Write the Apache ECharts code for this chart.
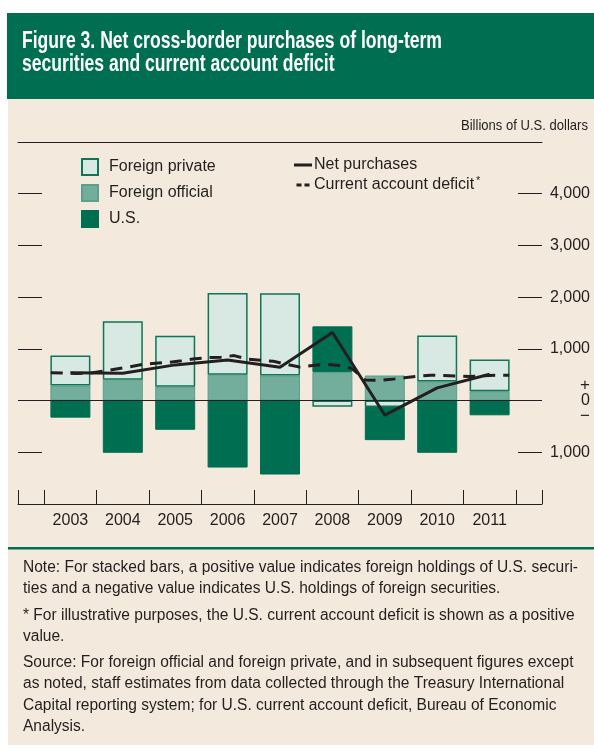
<!DOCTYPE html>
<html>
<head>
<meta charset="utf-8">
<script src="https://cdn.jsdelivr.net/npm/echarts@6/dist/echarts.min.js"></script>
<style>
  html, body { margin: 0; padding: 0; background: #fff; }
  #chart { width: 594px; height: 751px; }
</style>
</head>
<body>
<div id="chart"></div>
<script>
;(function () {
  const FONT = '"Liberation Sans", Arial, sans-serif'
  const INK = '#231f20'
  const GREEN = '#006f51'
  const CREAM = '#f3e9dc'

  const years = ['2003', '2004', '2005', '2006', '2007', '2008', '2009', '2010', '2011']
  const foreignPrivate = [580, 1130, 990, 1580, 1590, -120, -125, 890, 615]
  const foreignOfficial = [290, 405, 265, 500, 485, 550, 485, 370, 180]
  const usPurchases = [-330, -1010, -565, -1295, -1430, 885, -640, -1010, -285]
  const netPurchases = [540, 530, 690, 785, 645, 1315, -280, 245, 510]
  // quarterly, four per year
  const caDeficit = [
    540, 530, 525, 530,
    570, 610, 650, 700,
    720, 740, 770, 810,
    830, 840, 870, 800,
    780, 760, 700, 650,
    680, 700, 680, 620,
    400, 390, 410, 440,
    470, 490, 485, 475,
    465, 480, 490, 490,
  ]
  const yTicks = [-2000, -1000, 0, 1000, 2000, 3000, 4000, 5000]

  const titleLines = ['Figure 3. Net cross-border purchases of long-term', 'securities and current account deficit']
  const noteLines = [
    ['Note: For stacked bars, a positive value indicates foreign holdings of U.S. securi-', 568],
    ['ties and a negative value indicates U.S. holdings of foreign securities.', 589],
    ['* For illustrative purposes, the U.S. current account deficit is shown as a positive', 616],
    ['value.', 637],
    ['Source: For foreign official and foreign private, and in subsequent figures except', 663],
    ['as noted, staff estimates from data collected through the Treasury International', 684],
    ['Capital reporting system; for U.S. current account deficit, Bureau of Economic', 706],
    ['Analysis.', 727],
  ]

  // condense text the way the printed figure does
  const ctx = document.createElement('canvas').getContext('2d')
  function squeeze(text, font, width) {
    ctx.font = font
    return width / ctx.measureText(text).width
  }
  const TITLE_FONT = 'bold 23px ' + FONT
  const NOTE_FONT = '16px ' + FONT
  const titleScale = squeeze(titleLines[0], TITLE_FONT, 420)
  const noteScale = squeeze(noteLines[0][0], NOTE_FONT, 555)
  const unitScale = squeeze('Billions of U.S. dollars', '15px ' + FONT, 127)

  function scaledText(text, x, y, font, fill, scale, align) {
    return {
      type: 'text', x, y, scaleX: scale, silent: true,
      style: { text, x: 0, y: 0, align: align || 'left', verticalAlign: 'middle', fill, font },
    }
  }

  // padded categories: half-empty slots at both ends of the axis
  const slots = [''].concat(years, [''])
  const pad = (arr) => ['-'].concat(arr, ['-'])
  const boundaries = [0].concat(years.map((y, i) => i + 0.5), [years.length + 0.5, years.length + 1])

  const textStyle = { fontFamily: FONT, color: INK }
  const yRange = { type: 'value', min: yTicks[0], max: yTicks[yTicks.length - 1], interval: 1000 }
  const tickOnly = {
    ...yRange, position: 'left',
    splitLine: { show: false }, axisLine: { show: false }, axisLabel: { show: false },
    axisTick: { show: true, inside: true, length: 24, lineStyle: { color: INK } },
  }

  const chart = echarts.init(document.getElementById('chart'))

  chart.setOption({
    backgroundColor: '#fff',
    animation: false,
    graphic: [
      { type: 'rect', z: -10, silent: true, shape: { x: 7, y: 13, width: 600, height: 86 }, style: { fill: GREEN } },
      { type: 'rect', z: -10, silent: true, shape: { x: 8, y: 99, width: 600, height: 646 }, style: { fill: CREAM } },
      { type: 'rect', z: -9, silent: true, shape: { x: 8, y: 547, width: 600, height: 2.5 }, style: { fill: GREEN } },
      scaledText(titleLines[0], 22, 42, TITLE_FONT, '#fff', titleScale),
      scaledText(titleLines[1], 22, 65, TITLE_FONT, '#fff', titleScale),
      scaledText('Billions of U.S. dollars', 588, 126, '15px ' + FONT, INK, unitScale, 'right'),
    ].concat(noteLines.map(([text, y]) => scaledText(text, 23, y, NOTE_FONT, INK, noteScale))),
    legend: [
      {
        data: ['Foreign private', 'Foreign official', 'U.S.'],
        orient: 'vertical', left: 81, top: 158, padding: 0,
        itemWidth: 16, itemHeight: 16, itemGap: 8, icon: 'rect',
        selectedMode: false,
        textStyle: { ...textStyle, fontSize: 16, lineHeight: 16, padding: [0, 0, 0, 6] },
      },
      {
        data: [
          { name: 'Net purchases', icon: 'path://M0,0H18V3H0Z' },
          { name: 'Current account deficit', icon: 'path://M0,0H5V3H0Z M8,0H13V3H8Z' },
        ],
        orient: 'vertical', left: 294, top: 157, padding: 0,
        itemWidth: 18, itemHeight: 3, itemGap: 2,
        selectedMode: false,
        formatter: (name) => (name === 'Current account deficit' ? name + '{s|*}' : name),
        textStyle: {
          ...textStyle, fontSize: 16, lineHeight: 15, padding: [0, 0, 0, -3],
          rich: { s: { fontSize: 11, fontFamily: FONT, color: INK, padding: [0, 0, 9, 2] } },
        },
      },
    ],
    grid: [
      { left: 18, right: 52, top: 142, bottom: 247 },
      // strip at the right edge that only carries the right-hand tick marks
      { left: 518, width: 24, top: 142, bottom: 247 },
    ],
    xAxis: [
      { type: 'category', data: slots, boundaryGap: false, show: false },
      {
        type: 'value', position: 'bottom', min: 0, max: years.length + 1,
        splitLine: { show: false },
        axisLine: { show: true, onZero: false, lineStyle: { color: INK, width: 1 } },
        axisTick: { show: true, inside: true, length: 14, customValues: boundaries, lineStyle: { color: INK } },
        axisLabel: {
          ...textStyle, fontSize: 16, margin: 9,
          customValues: years.map((y, i) => i + 1),
          formatter: (v) => slots[Math.round(v)] || '',
        },
      },
      {
        type: 'value', position: 'top', min: 0, max: years.length + 1,
        splitLine: { show: false }, axisTick: { show: false }, axisLabel: { show: false },
        axisLine: { show: true, onZero: false, lineStyle: { color: INK, width: 1 } },
      },
      { gridIndex: 1, type: 'value', show: false },
    ],
    yAxis: [
      tickOnly,
      {
        ...yRange, position: 'right',
        splitLine: { show: false }, axisLine: { show: false }, axisTick: { show: false },
        axisLabel: {
          ...textStyle, fontSize: 16, align: 'right', margin: 48,
          formatter: (v) => {
            if (v === 0) return '{p|+}\n{z|0}\n{m|−}'
            if (v === yTicks[0] || v === yTicks[yTicks.length - 1]) return ''
            return Math.abs(v).toLocaleString('en-US')
          },
          rich: {
            p: { fontSize: 17, lineHeight: 15, fontFamily: FONT, color: INK, align: 'right' },
            z: { fontSize: 16, lineHeight: 16, fontFamily: FONT, color: INK, align: 'right' },
            m: { fontSize: 17, lineHeight: 15, fontFamily: FONT, color: INK, align: 'right' },
          },
        },
      },
      { ...tickOnly, gridIndex: 1 },
    ],
    series: [
      {
        name: 'Foreign official', type: 'bar', stack: 'flows', barWidth: 40,
        data: pad(foreignOfficial),
        itemStyle: { color: '#73ae9c', borderColor: '#5c9f8a', borderWidth: 1 },
      },
      {
        name: 'Foreign private', type: 'bar', stack: 'flows', barWidth: 40,
        data: pad(foreignPrivate),
        itemStyle: { color: '#d8e8e2', borderColor: '#0c7656', borderWidth: 1.5 },
      },
      {
        name: 'U.S.', type: 'bar', stack: 'flows', barWidth: 40,
        data: pad(usPurchases),
        itemStyle: { color: '#006e51', borderColor: '#006e51', borderWidth: 1 },
        markLine: {
          silent: true, symbol: 'none', label: { show: false },
          lineStyle: { color: INK, width: 1, type: 'solid' },
          data: [{ yAxis: 0 }],
        },
      },
      {
        name: 'Current account deficit', type: 'line', xAxisIndex: 1, symbol: 'none', z: 4,
        data: caDeficit.map((v, k) => [Math.floor(k / 4) + 1 + ((k % 4) - 1.5) / 4, v]),
        lineStyle: { color: INK, width: 3, type: [12, 8] },
        itemStyle: { color: INK },
      },
      {
        name: 'Net purchases', type: 'line', symbol: 'none', z: 5,
        data: pad(netPurchases),
        lineStyle: { color: INK, width: 3 },
        itemStyle: { color: INK },
      },
    ],
  })
})()
</script>
</body>
</html>
